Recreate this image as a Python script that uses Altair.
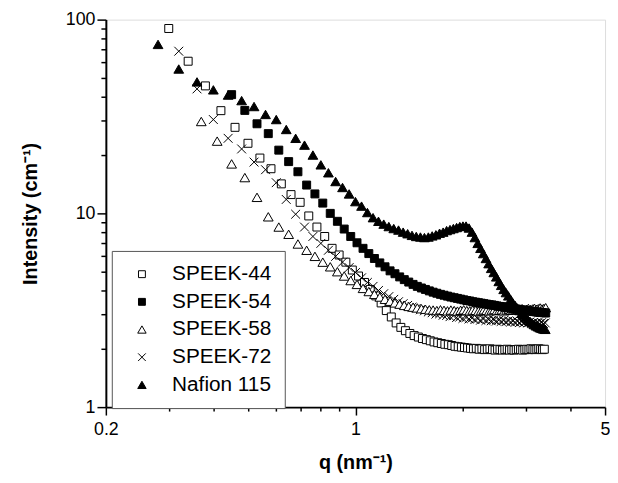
import altair as alt
import pandas as pd

series_names = ["SPEEK-44", "SPEEK-54", "SPEEK-58", "SPEEK-72", "Nafion 115"]

q_speek44 = [0.30, 0.34, 0.38, 0.42, 0.46, 0.50, 0.54, 0.58, 0.62, 0.66, 0.70, 0.74, 0.78, 0.82, 0.86,
             0.90, 0.94, 0.98, 1.02, 1.06, 1.10, 1.14, 1.18, 1.22, 1.26, 1.30, 1.34, 1.38, 1.42, 1.46,
             1.50, 1.54, 1.58, 1.62, 1.66, 1.70, 1.74, 1.78, 1.82, 1.86, 1.90, 1.94, 1.98, 2.02, 2.06,
             2.10, 2.14, 2.18, 2.22, 2.26, 2.30, 2.34, 2.38, 2.42, 2.46, 2.50, 2.54, 2.58, 2.62, 2.66,
             2.70, 2.74, 2.78, 2.82, 2.86, 2.90, 2.94, 2.98, 3.02, 3.06, 3.10, 3.14, 3.18, 3.22, 3.26,
             3.30, 3.34, 3.38]
i_speek44 = [90, 61, 45.5, 33.9, 27.8, 23.0, 19.3, 17.0, 14.2, 12.5, 11.4, 9.7, 8.5, 7.6, 6.6,
             6.1, 5.6, 5.1, 4.75, 4.4, 4.05, 3.75, 3.45, 3.15, 2.92, 2.72, 2.58, 2.48, 2.40, 2.34,
             2.30, 2.26, 2.23, 2.20, 2.17, 2.15, 2.13, 2.11, 2.10, 2.08, 2.06, 2.05, 2.04, 2.03, 2.02,
             2.01, 2.00, 2.01, 1.99, 2.00, 1.98, 1.99, 2.00, 1.98, 1.97, 1.99, 1.98, 1.97, 1.98, 1.99,
             1.97, 1.98, 1.97, 1.98, 1.99, 1.98, 1.97, 1.98, 1.99, 1.98, 2.00, 1.99, 1.98, 1.99, 2.00,
             1.99, 1.98, 1.99]

q_speek54 = [0.45, 0.49, 0.53, 0.57, 0.61, 0.65, 0.69, 0.73, 0.77, 0.81, 0.85, 0.89, 0.93, 0.97, 1.01,
             1.05, 1.09, 1.13, 1.17, 1.21, 1.25, 1.29, 1.33, 1.37, 1.41, 1.45, 1.49, 1.53, 1.57, 1.61,
             1.65, 1.69, 1.73, 1.77, 1.81, 1.85, 1.89, 1.93, 1.97, 2.01, 2.05, 2.09, 2.13, 2.17, 2.21,
             2.25, 2.29, 2.33, 2.37, 2.41, 2.45, 2.49, 2.53, 2.57, 2.61, 2.65, 2.69, 2.73, 2.77, 2.81,
             2.85, 2.89, 2.93, 2.97, 3.01, 3.05, 3.09, 3.13, 3.17, 3.21, 3.25, 3.29, 3.33, 3.37, 3.41]
i_speek54 = [41, 34, 29, 25.8, 21.2, 18.5, 16.4, 14.0, 12.6, 11.3, 10.0, 9.1, 8.3, 7.6, 7.05,
             6.6, 6.2, 5.85, 5.55, 5.3, 5.05, 4.88, 4.7, 4.55, 4.42, 4.3, 4.2, 4.12, 4.05, 3.98,
             3.92, 3.87, 3.82, 3.78, 3.74, 3.7, 3.67, 3.64, 3.61, 3.58, 3.55, 3.53, 3.5, 3.48, 3.46,
             3.44, 3.42, 3.4, 3.38, 3.37, 3.35, 3.33, 3.31, 3.3, 3.28, 3.27, 3.25, 3.24, 3.22, 3.21,
             3.2, 3.18, 3.17, 3.16, 3.15, 3.14, 3.13, 3.12, 3.11, 3.1, 3.09, 3.08, 3.08, 3.07, 3.06]

q_speek58 = [0.37, 0.41, 0.45, 0.49, 0.53, 0.57, 0.61, 0.65, 0.69, 0.73, 0.77, 0.81, 0.85, 0.89, 0.93,
             0.97, 1.01, 1.05, 1.09, 1.13, 1.17, 1.21, 1.25, 1.29, 1.33, 1.37, 1.41, 1.45, 1.49, 1.53,
             1.57, 1.61, 1.65, 1.69, 1.73, 1.77, 1.81, 1.85, 1.89, 1.93, 1.97, 2.01, 2.05, 2.09, 2.13,
             2.17, 2.21, 2.25, 2.29, 2.33, 2.37, 2.41, 2.45, 2.49, 2.53, 2.57, 2.61, 2.65, 2.69, 2.73,
             2.77, 2.81, 2.85, 2.89, 2.93, 2.97, 3.01, 3.05, 3.09, 3.13, 3.17, 3.21, 3.25, 3.29, 3.33,
             3.37, 3.41]
i_speek58 = [29.8, 23.6, 18.0, 15.3, 12.1, 9.6, 8.5, 7.8, 6.95, 6.45, 6.0, 5.6, 5.3, 5.0, 4.75,
             4.5, 4.3, 4.1, 3.95, 3.82, 3.7, 3.6, 3.52, 3.45, 3.4, 3.35, 3.31, 3.28, 3.25, 3.22,
             3.2, 3.18, 3.17, 3.15, 3.18, 3.16, 3.14, 3.17, 3.15, 3.13, 3.16, 3.18, 3.15, 3.14, 3.17,
             3.16, 3.13, 3.15, 3.18, 3.16, 3.14, 3.17, 3.19, 3.15, 3.16, 3.18, 3.14, 3.17, 3.2, 3.16,
             3.18, 3.21, 3.17, 3.19, 3.22, 3.18, 3.2, 3.23, 3.19, 3.21, 3.24, 3.2, 3.22, 3.25, 3.21,
             3.23, 3.26]

q_speek72 = [0.32, 0.36, 0.40, 0.44, 0.48, 0.52, 0.56, 0.60, 0.64, 0.68, 0.72, 0.76, 0.80, 0.84, 0.88,
             0.92, 0.96, 1.00, 1.04, 1.08, 1.12, 1.16, 1.20, 1.24, 1.28, 1.32, 1.36, 1.40, 1.44, 1.48,
             1.52, 1.56, 1.60, 1.64, 1.68, 1.72, 1.76, 1.80, 1.84, 1.88, 1.92, 1.96, 2.00, 2.04, 2.08,
             2.12, 2.16, 2.20, 2.24, 2.28, 2.32, 2.36, 2.40, 2.44, 2.48, 2.52, 2.56, 2.60, 2.64, 2.68,
             2.72, 2.76, 2.80, 2.84, 2.88, 2.92, 2.96, 3.00, 3.04, 3.08, 3.12, 3.16, 3.20, 3.24, 3.28,
             3.32, 3.36, 3.40]
i_speek72 = [68.7, 43.9, 30.5, 24.4, 21.5, 18.4, 16.8, 14.4, 11.8, 9.9, 8.5, 7.6, 7.0, 6.45, 6.0,
             5.6, 5.25, 4.95, 4.65, 4.4, 4.2, 4.0, 3.85, 3.72, 3.6, 3.5, 3.42, 3.35, 3.28, 3.23,
             3.18, 3.14, 3.1, 3.07, 3.02, 3.03, 2.98, 2.97, 2.93, 2.96, 2.9, 2.92, 2.87, 2.9, 2.85,
             2.88, 2.83, 2.86, 2.81, 2.85, 2.8, 2.83, 2.79, 2.82, 2.78, 2.81, 2.77, 2.8, 2.76, 2.79,
             2.75, 2.78, 2.74, 2.77, 2.73, 2.76, 2.72, 2.76, 2.72, 2.75, 2.71, 2.74, 2.71, 2.73, 2.7,
             2.73, 2.7, 2.72]

q_nafion = [0.28, 0.32, 0.36, 0.40, 0.44, 0.48, 0.52, 0.56, 0.60, 0.64, 0.68, 0.72, 0.76, 0.80, 0.84,
            0.88, 0.92, 0.96, 1.00, 1.04, 1.08, 1.12, 1.16, 1.20, 1.24, 1.28, 1.32, 1.36, 1.40, 1.44,
            1.48, 1.52, 1.56, 1.60, 1.64, 1.68, 1.72, 1.76, 1.80, 1.84, 1.88, 1.92, 1.96, 2.00, 2.04,
            2.08, 2.12, 2.16, 2.20, 2.24, 2.28, 2.32, 2.36, 2.40, 2.44, 2.48, 2.52, 2.56, 2.60, 2.64,
            2.68, 2.72, 2.76, 2.80, 2.84, 2.88, 2.92, 2.96, 3.00, 3.04, 3.08, 3.12, 3.16, 3.20, 3.24,
            3.28, 3.32, 3.36, 3.40]
i_nafion = [74.5, 55.6, 47.7, 43.4, 40.8, 38.2, 35.6, 32.4, 30.5, 27.1, 24.4, 22.5, 20.0, 17.8, 16.2,
            14.6, 13.6, 12.6, 11.5, 10.9, 10.1, 9.5, 9.1, 8.8, 8.55, 8.35, 8.2, 8.0, 7.85, 7.7,
            7.6, 7.55, 7.5, 7.55, 7.65, 7.75, 7.9, 8.0, 8.15, 8.25, 8.35, 8.45, 8.55, 8.6, 8.6,
            8.4, 8.0, 7.5, 7.0, 6.6, 6.2, 5.85, 5.5, 5.2, 4.95, 4.7, 4.45, 4.25, 4.05, 3.9,
            3.75, 3.6, 3.45, 3.35, 3.25, 3.15, 3.05, 2.97, 2.9, 2.83, 2.77, 2.72, 2.67, 2.63, 2.6,
            2.57, 2.55, 2.53, 2.52]

x_tick_values = [0.2, 0.3, 0.4, 0.5, 0.6, 0.7, 0.8, 0.9, 1, 2, 3, 4, 5]
y_tick_values = [1, 2, 3, 4, 5, 6, 7, 8, 9, 10, 20, 30, 40, 50, 60, 70, 80, 90, 100]

SQUARE = "M-0.9,-0.9L0.9,-0.9L0.9,0.9L-0.9,0.9Z"
TRIANGLE = "M0,-0.95L1.1,0.95L-1.1,0.95Z"
CROSS_X = "M-1,-1L1,1M-1,1L1,-1"
shape_range = [SQUARE, SQUARE, TRIANGLE, CROSS_X, TRIANGLE]
fill_range = ["white", "black", "white", "white", "black"]
stroke_range = ["black", "black", "black", "black", "black"]

rows = []
for name, qs, vals in [("SPEEK-44", q_speek44, i_speek44),
                       ("SPEEK-72", q_speek72, i_speek72),
                       ("SPEEK-58", q_speek58, i_speek58),
                       ("SPEEK-54", q_speek54, i_speek54),
                       ("Nafion 115", q_nafion, i_nafion)]:
    for q, v in zip(qs, vals):
        rows.append({"series": name, "q": q, "I": v})
df = pd.DataFrame(rows)

FONT = "Liberation Sans"

legend = alt.Legend(
    title=None, orient="none", legendX=6, legendY=234,
    fillColor="white", strokeColor="#555", padding=13,
    labelFontSize=21, labelFont=FONT, labelColor="black",
    symbolSize=60, symbolStrokeWidth=1,
    rowPadding=6, labelOffset=20, symbolOffset=7,
)

x_axis = alt.Axis(
    values=x_tick_values, format="~g", title="q (nm⁻¹)",
    labelExpr="(datum.value == 0.2 || datum.value == 1 || datum.value == 5) ? datum.label : ''",
    tickSize={"condition": {"test": "datum.value == 1 || datum.value == 0.2 || datum.value == 5", "value": 8}, "value": 4},
    labelPadding=6, labelFontSize=18, labelFont=FONT, labelColor="black",
    titleFontSize=20, titleFont=FONT, titleFontWeight="bold", titleColor="black", titlePadding=14,
    domainColor="black", domainWidth=2, tickColor="black", tickWidth=1.5, grid=False, labelFlush=False,
)
y_axis = alt.Axis(
    values=y_tick_values, format="~g", title="Intensity (cm⁻¹)",
    labelExpr="(datum.value == 1 || datum.value == 10 || datum.value == 100) ? datum.label : ''",
    tickSize={"condition": {"test": "datum.value == 1 || datum.value == 10 || datum.value == 100", "value": 9}, "value": 5},
    labelPadding=2, labelFontSize=18, labelFont=FONT, labelColor="black",
    titleFontSize=20, titleFont=FONT, titleFontWeight="bold", titleColor="black", titlePadding=25,
    domainColor="black", domainWidth=2, tickColor="black", tickWidth=1.5, grid=False, labelFlush=False,
)

chart = alt.Chart(df).mark_point(
    filled=False, strokeWidth=1, size=80,
    opacity=1, fillOpacity=1, strokeOpacity=1
).encode(
    x=alt.X("q:Q", scale=alt.Scale(type="log", domain=[0.2, 5], nice=False), axis=x_axis),
    y=alt.Y("I:Q", scale=alt.Scale(type="log", domain=[1, 100], nice=False), axis=y_axis),
    color=alt.Color("series:N", scale=alt.Scale(domain=series_names, range=stroke_range), legend=legend),
    shape=alt.Shape("series:N", scale=alt.Scale(domain=series_names, range=shape_range), legend=legend),
    fill=alt.Fill("series:N", scale=alt.Scale(domain=series_names, range=fill_range), legend=legend),
).properties(
    width=505, height=392,
    autosize=alt.AutoSizeParams(type="none"),
    padding={"left": 99, "top": 9, "right": 5, "bottom": 74},
).configure_view(
    stroke="black", strokeWidth=1.5
).configure(
    font=FONT, background="white"
)

chart.save("out.html", embed_options={"renderer": "svg", "actions": False})
